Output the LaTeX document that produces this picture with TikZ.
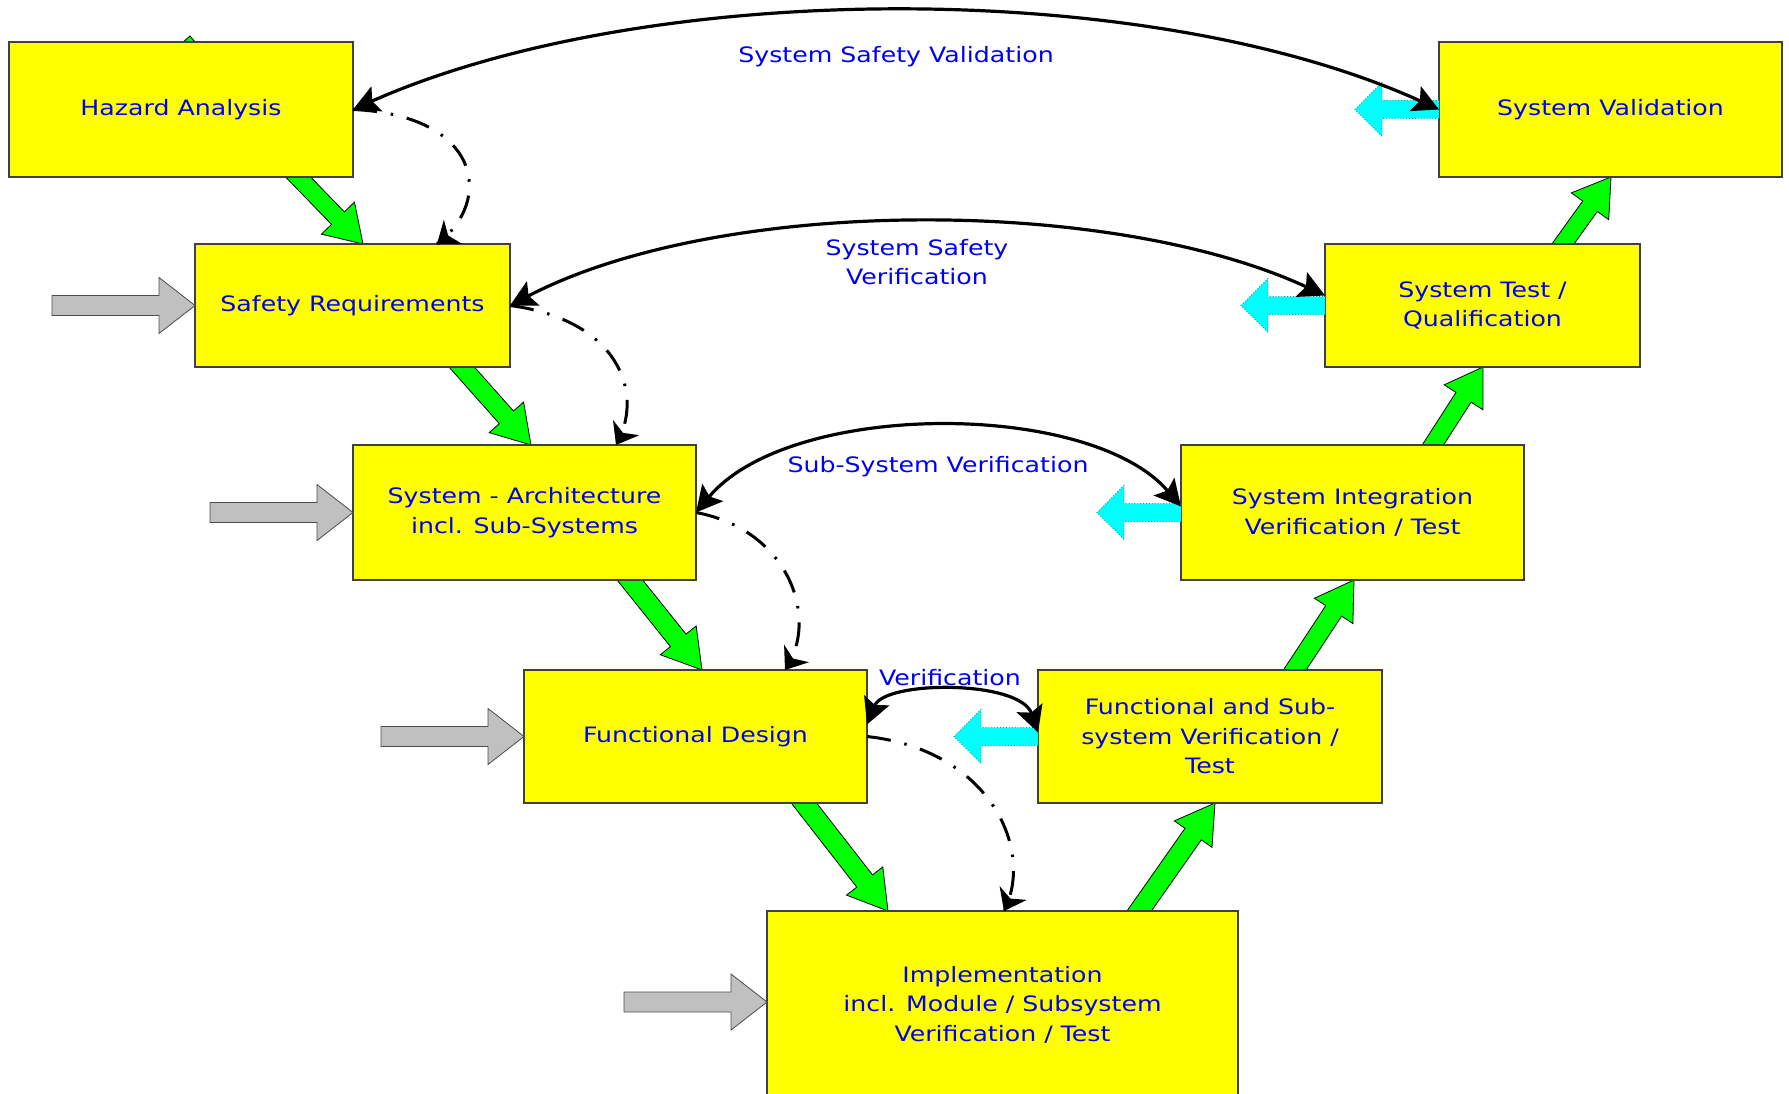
\documentclass[tikz,border=0pt]{standalone}
\usepackage{fontspec}
\setmainfont{DejaVu Sans}[FakeStretch=1.19]
\usetikzlibrary{calc,arrows.meta}
\definecolor{boxyellow}{RGB}{255,255,0}
\definecolor{txtblue}{RGB}{0,0,240}
\definecolor{grn}{RGB}{0,255,0}
\definecolor{cyn}{RGB}{0,255,255}
\definecolor{gry}{RGB}{192,192,192}
\newcommand\blockarr[6]{%
  \coordinate (ba) at ($(#3)!#6!(#2)$);
  \draw[#1] ($(#2)!#4!90:(#3)$) -- ($(ba)!#4!90:(#3)$) -- ($(ba)!#5!90:(#3)$) -- (#3)
    -- ($(ba)!#5!-90:(#3)$) -- ($(ba)!#4!-90:(#3)$) -- ($(#2)!#4!-90:(#3)$) -- cycle;
}
\tikzset{
  vbox/.style={draw=black!75, line width=1.2pt, fill=boxyellow, inner sep=0pt, outer sep=0pt,
    align=center, text=txtblue, font=\fontsize{21.2}{29.5}\selectfont},
  lbl/.style={text=txtblue, align=center, inner sep=0pt, font=\fontsize{21.2}{29.5}\selectfont},
  greenarr/.style={fill=grn, draw=black, line width=0.8pt, line join=miter},
  grayarr/.style={fill=gry, draw=black!70, line width=0.8pt},
  cyanarr/.style={fill=cyn, draw=cyn!60!black, dotted, line width=0.9pt},
  biarrow/.style={line width=3.2pt, {Stealth[length=26pt,width=27pt,inset=5pt]}-{Stealth[length=26pt,width=27pt,inset=5pt]}},
  dasharr/.style={line width=3pt, dash pattern=on 24pt off 14pt on 2.5pt off 14pt},
  dashtip/.style={-{Stealth[length=20pt,width=30pt,inset=6pt]}, line width=3pt}
}
\begin{document}
\begin{tikzpicture}[x=1pt,y=-1pt]
\useasboundingbox (0,0) rectangle (1789,1094);
% coordinates for the green process arrows
\coordinate (g1t) at (270,148);  \coordinate (g1h) at (363,244);
\coordinate (g2t) at (435,337);  \coordinate (g2h) at (531,445);
\coordinate (g3t) at (605,549);  \coordinate (g3h) at (702,670);
\coordinate (g4t) at (779,771);  \coordinate (g4h) at (888,911);
\coordinate (g5t) at (1116,944); \coordinate (g5h) at (1215,803);
\coordinate (g6t) at (1273,703); \coordinate (g6h) at (1354,580);
\coordinate (g7t) at (1411,479); \coordinate (g7h) at (1483,367);
\coordinate (g8t) at (1540,276); \coordinate (g8h) at (1611,177);
\blockarr{greenarr}{g1t}{g1h}{9pt}{23pt}{36pt}
\blockarr{greenarr}{g2t}{g2h}{9.5pt}{23pt}{37pt}
\blockarr{greenarr}{g3t}{g3h}{10pt}{23pt}{38pt}
\blockarr{greenarr}{g4t}{g4h}{10pt}{23pt}{38pt}
\blockarr{greenarr}{g5t}{g5h}{10pt}{23pt}{38pt}
\blockarr{greenarr}{g6t}{g6h}{9.5pt}{23pt}{37pt}
\blockarr{greenarr}{g7t}{g7h}{9pt}{23pt}{36pt}
\blockarr{greenarr}{g8t}{g8h}{9pt}{23pt}{36pt}
\fill[grn, draw=black, line width=0.8pt] (182,43) -- (190,36) -- (196,43);
% boxes
\node[vbox, minimum width=344pt, minimum height=135pt] (HA) at (181,109.5) {Hazard Analysis};
\node[vbox, minimum width=343pt, minimum height=135pt] (SV) at (1610.5,109.5) {System Validation};
\node[vbox, minimum width=315pt, minimum height=123pt] (SR) at (352.5,305.5) {Safety Requirements};
\node[vbox, minimum width=315pt, minimum height=123pt] (ST) at (1482.5,305.5) {System Test /\\Qualification};
\node[vbox, minimum width=343pt, minimum height=135pt] (SA) at (524.5,512.5) {System - Architecture\\incl. Sub-Systems};
\node[vbox, minimum width=343pt, minimum height=135pt] (SI) at (1352.5,512.5) {System Integration\\Verification / Test};
\node[vbox, minimum width=343pt, minimum height=133pt] (FD) at (695.5,736.5) {Functional Design};
\node[vbox, minimum width=344pt, minimum height=133pt] (FS) at (1210,736.5) {Functional and Sub-\\system Verification /\\Test};
\node[vbox, minimum width=471pt, minimum height=187pt] (IM) at (1002.5,1004.5) {Implementation\\incl. Module / Subsystem\\Verification / Test};
% gray input arrows
\coordinate (i1) at ($(SR.west)+(-143,0)$);
\coordinate (i2) at ($(SA.west)+(-143,0)$);
\coordinate (i3) at ($(FD.west)+(-143,0)$);
\coordinate (i4) at ($(IM.west)+(-143,-2.5)$);
\coordinate (i4h) at ($(IM.west)+(0,-2.5)$);
\blockarr{grayarr}{i1}{SR.west}{10pt}{28pt}{36pt}
\blockarr{grayarr}{i2}{SA.west}{10pt}{28pt}{36pt}
\blockarr{grayarr}{i3}{FD.west}{10pt}{28pt}{36pt}
\blockarr{grayarr}{i4}{i4h}{10pt}{28pt}{36pt}
% cyan feedback arrows
\coordinate (c1) at ($(SV.west)+(-84,0)$);
\coordinate (c2) at ($(ST.west)+(-84,0)$);
\coordinate (c3) at ($(SI.west)+(-84,0)$);
\coordinate (c4) at ($(FS.west)+(-84,0)$);
\blockarr{cyanarr}{SV.west}{c1}{9pt}{27pt}{27pt}
\blockarr{cyanarr}{ST.west}{c2}{9pt}{27pt}{27pt}
\blockarr{cyanarr}{SI.west}{c3}{9pt}{27pt}{27pt}
\blockarr{cyanarr}{FS.west}{c4}{9pt}{27pt}{27pt}
% verification / validation curves
\draw[biarrow] (HA.east) .. controls (650,-22) and (1150,-22) .. (SV.west);
\draw[biarrow] (SR.east) .. controls (720,196) and (1110,196) .. ([yshift=10pt]ST.west);
\draw[biarrow] (SA.east) .. controls (790,400) and (1090,400) .. ([yshift=6pt]SI.west);
\draw[biarrow] ([yshift=12pt]FD.east) .. controls (885,680) and (1020,680) .. ([yshift=4pt]FS.west);
% dash-dot arrows (curve, then a solid tip along its final direction)
\coordinate (d1) at ([xshift=242pt]SR.north west);
\coordinate (d2) at ([xshift=263pt]SA.north west);
\coordinate (d3) at ([xshift=261pt]FD.north west);
\coordinate (d4) at ([xshift=237pt]IM.north west);
\draw[dasharr] (HA.east) .. controls (480,115) and (495,200) .. (d1);
\draw[dasharr] (SR.east) .. controls (620,320) and (645,395) .. (d2);
\draw[dasharr] (SA.east) .. controls (790,530) and (820,620) .. (d3);
\draw[dasharr] (FD.east) .. controls (990,750) and (1035,850) .. (d4);
\draw[dashtip] ($(d1)!12pt!(495,200)$) -- (d1);
\draw[dashtip] ($(d2)!12pt!(645,395)$) -- (d2);
\draw[dashtip] ($(d3)!12pt!(820,620)$) -- (d3);
\draw[dashtip] ($(d4)!12pt!(1035,850)$) -- (d4);
% labels
\node[lbl] (L1) at (896,57) {System Safety Validation};
\node[lbl] (L2) at (917,262) {System Safety\\Verification};
\node[lbl] (L3) at (938,467) {Sub-System Verification};
\node[lbl] (L4) at (950,678) {Verification};
\end{tikzpicture}
\end{document}
